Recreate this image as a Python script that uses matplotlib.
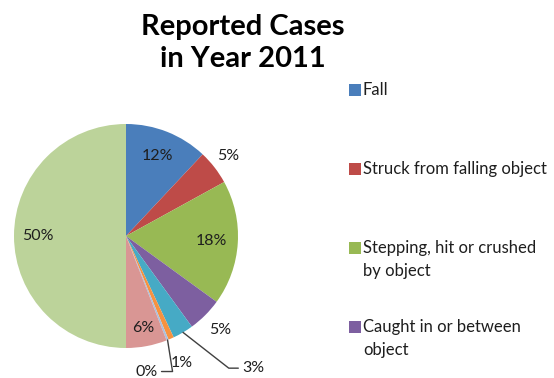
import numpy as np
import matplotlib.pyplot as plt
from matplotlib.patches import Rectangle

# data
causes = ["Fall", "Struck from falling object", "Stepping, hit or crushed\nby object",
          "Caught in or between\nobject", "Cause 5", "Cause 6", "Cause 7", "Cause 8", "Cause 9"]
shares = [12.0, 5.0, 18.0, 5.0, 3.0, 0.8, 0.3, 5.9, 50.0]
colors = ["#4A7EBB", "#BE4B48", "#98B954", "#7D5FA0", "#46AAC5",
          "#F69240", "#A9C0DE", "#D99694", "#BCD39A"]
n_legend = 4

# label distance from centre (in radii) per slice
label_r = [0.77, 1.16, 0.76, 1.19, None, 1.24, None, 0.84, 0.79]

plt.rcParams['font.family'] = ['Lato', 'DejaVu Sans']

W, H = 554, 378
fig = plt.figure(figsize=(W / 100, H / 100), dpi=100)
ax = fig.add_axes([14/W, 30/H, 224/W, 224/H])

wedges, _ = ax.pie(shares, colors=colors, startangle=90, counterclock=False,
                   radius=1.0, wedgeprops=dict(linewidth=0))
ax.set_xlim(-1, 1)
ax.set_ylim(-1, 1)
ax.set_aspect('equal')
ax.axis('off')

lab_fs = 11.5
cum = np.cumsum([0] + shares)
for i, w in enumerate(wedges):
    mid = np.deg2rad(90 - (cum[i] + shares[i] / 2) * 3.6)
    txt = f"{shares[i]:.0f}%"
    r = label_r[i]
    if r is not None:
        ax.text(r * np.cos(mid), r * np.sin(mid), txt, ha='center', va='center',
                fontsize=lab_fs, color='#1e1e1e')
    elif i == 4:
        ax.annotate(txt, xy=(np.cos(mid), np.sin(mid)), xytext=(1.04, -1.18),
                    ha='left', va='center', fontsize=lab_fs, color='#1e1e1e',
                    arrowprops=dict(arrowstyle='-', color='#404040', lw=1,
                                    shrinkA=1, shrinkB=0,
                                    connectionstyle="angle,angleA=0,angleB=142"))
    else:
        ax.annotate(txt, xy=(np.cos(mid), np.sin(mid)), xytext=(0.28, -1.21),
                    ha='right', va='center', fontsize=lab_fs, color='#1e1e1e',
                    arrowprops=dict(arrowstyle='-', color='#404040', lw=1,
                                    shrinkA=1, shrinkB=0,
                                    connectionstyle="angle,angleA=0,angleB=99"))

fig.text(243/W, 1 - 43/H, "Reported Cases\nin Year 2011", ha='center', va='center',
         fontsize=21, fontweight='bold', linespacing=1.3, color='black')

# legend (only the first entries fit, as in the original)
leg_y0, leg_step, line_h = 90, 79, 23
for i in range(n_legend):
    yc = leg_y0 + i * leg_step
    fig.patches.append(Rectangle((349/W, 1 - (yc + 6)/H), 12/W, 12/H,
                                 transform=fig.transFigure, facecolor=colors[i],
                                 edgecolor='none'))
    for k, line in enumerate(causes[i].split("\n")):
        fig.text(363/W, 1 - (yc + k * line_h)/H, line, ha='left', va='center',
                 fontsize=12, color='#1e1e1e')

fig.savefig("out.png", dpi=100)
